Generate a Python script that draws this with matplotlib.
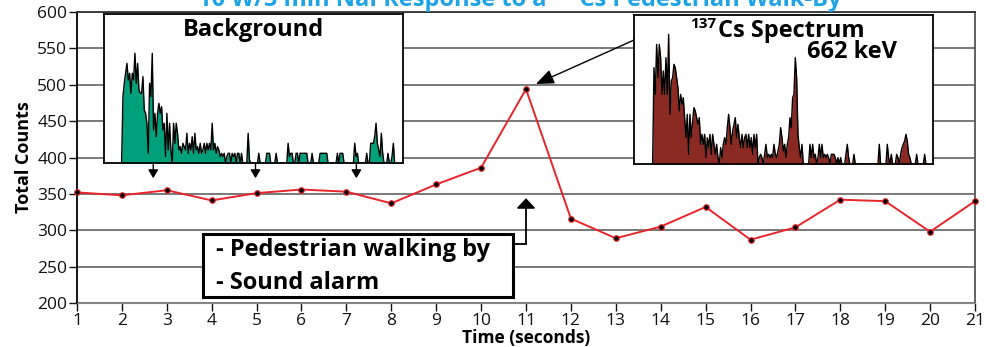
import matplotlib
matplotlib.use('Agg')
import matplotlib.pyplot as plt
from matplotlib.patches import Rectangle

plt.rcParams['font.family'] = ['Open Sans', 'DejaVu Sans']

# main trace: total counts per second
time_s = list(range(1, 22))
total_counts = [352, 348, 355, 341, 351, 356, 353, 337, 363, 386, 494,
                316, 289, 305, 332, 287, 304, 342, 340, 298, 340]
y_ticks = [200, 250, 300, 350, 400, 450, 500, 550, 600]

# inset spectra (relative channel heights)
bg_spectrum = [
    0, 20, 24, 27, 30, 25, 27, 21, 27, 25,
    33, 24, 30, 22, 21, 21, 26, 16, 15, 12,
    3, 24, 20, 33, 10, 15, 8, 15, 18, 15,
    17, 10, 12, 2, 15, 4, 12, 4, 0, 12,
    6, 12, 9, 4, 5, 3, 6, 5, 4, 9,
    3, 6, 4, 8, 3, 9, 4, 5, 3, 6,
    3, 4, 6, 3, 6, 4, 6, 4, 12, 4,
    6, 3, 5, 4, 2, 3, 2, 3, 0, 2,
    3, 3, 0, 3, 2, 3, 0, 3, 3, 0,
    3, 0, 0, 0, 0, 9, 1, 0, 0, 0,
    0, 0, 0, 3, 0, 0, 0, 0, 0, 3,
    3, 3, 0, 0, 0, 0, 3, 0, 0, 0,
    0, 0, 0, 0, 0, 6, 2, 3, 3, 0,
    0, 3, 3, 0, 3, 3, 3, 3, 3, 3,
    0, 0, 0, 3, 0, 0, 0, 0, 0, 3,
    3, 3, 3, 3, 3, 0, 0, 0, 0, 0,
    0, 0, 3, 0, 3, 3, 3, 0, 0, 0,
    0, 0, 0, 0, 0, 6, 2, 3, 0, 0,
    0, 0, 0, 0, 3, 0, 0, 6, 6, 6,
    8, 12, 6, 4, 2, 9, 3, 0, 0, 0,
    3, 0, 0, 2, 6, 0,
]
cs_spectrum = [
    0, 29, 21, 36, 26, 36, 32, 21, 28, 21,
    32, 21, 39, 15, 25, 26, 30, 29, 26, 23,
    16, 21, 18, 20, 14, 8, 15, 3, 15, 8,
    13, 17, 16, 14, 12, 14, 6, 9, 6, 9,
    2, 8, 5, 9, 3, 9, 6, 3, 6, 2,
    0, 5, 2, 6, 8, 6, 11, 15, 11, 6,
    10, 12, 14, 8, 12, 8, 5, 9, 5, 8,
    9, 5, 9, 5, 8, 3, 9, 5, 9, 0,
    2, 3, 2, 0, 3, 6, 2, 3, 2, 3,
    2, 6, 3, 2, 4, 6, 11, 8, 4, 6,
    2, 6, 8, 14, 11, 20, 21, 32, 26, 9,
    5, 2, 6, 0, 0, 0, 0, 0, 6, 2,
    6, 2, 3, 0, 2, 6, 2, 6, 2, 3,
    2, 3, 2, 0, 3, 3, 3, 2, 0, 2,
    0, 2, 0, 0, 0, 3, 6, 2, 0, 0,
    0, 3, 0, 0, 0, 0, 0, 0, 0, 0,
    0, 0, 0, 0, 0, 0, 0, 0, 0, 0,
    6, 0, 0, 0, 0, 0, 6, 2, 0, 3,
    0, 0, 0, 3, 2, 0, 3, 5, 6, 7,
    9, 7, 3, 2, 0, 0, 0, 0, 3, 0,
    0, 0, 0, 0, 3, 0,
]
bg_channels = [65 + 4 * i for i in range(len(bg_spectrum))]
cs_channels = [68 + 4 * i for i in range(len(cs_spectrum))]

RED = '#e8252a'
BLUE = '#1ea3e6'

fig = plt.figure(figsize=(9.87, 3.47), dpi=100)
ax = fig.add_axes([77 / 987, 1 - 303 / 347, 898 / 987, 291 / 347])

ax.plot(time_s, total_counts, color=RED, lw=1.4, marker='o', ms=4,
        mfc='black', mec=RED, mew=0.8, clip_on=False, zorder=4)
ax.set_xlim(1, 21)
ax.set_ylim(200, 600)
ax.set_xticks(time_s)
ax.set_yticks(y_ticks)
ax.grid(axis='y', color='#555555', lw=1.1)
ax.set_axisbelow(True)
ax.tick_params(labelsize=12.5, length=6, width=1, colors='#111111', pad=1)
ax.spines['left'].set_color('black')
ax.spines['left'].set_linewidth(1.3)
ax.spines['top'].set_color('#333333')
ax.spines['right'].set_color('#555555')
ax.spines['bottom'].set_color('#888888')
ax.spines['right'].set_linewidth(1.3)
ax.spines['top'].set_linewidth(1.3)
ax.set_ylabel('Total Counts', fontsize=13, fontweight='bold', labelpad=3)
ax.set_xlabel('Time (seconds)', fontsize=12.5, fontweight='bold', labelpad=0.5)

# title (mostly cut off at top of the figure)
fig.text(0.527, 1 - 6 / 347, '10 W/5 min NaI Response to a \u00b9\u00b3\u2077Cs Pedestrian Walk-By',
         ha='center', va='baseline', fontsize=17, fontweight='bold', color=BLUE)

# annotation box
ax.add_patch(Rectangle((3.81, 208), 10.72 - 3.81, 294.7 - 208, facecolor='white',
                       edgecolor='black', lw=2.2, zorder=5))
ax.text(4.1, 264.8, '- Pedestrian walking by', fontsize=17, fontweight='bold',
        va='baseline', zorder=6)
ax.text(4.1, 219.1, '- Sound alarm', fontsize=17, fontweight='bold',
        va='baseline', zorder=6)
ax.plot([10.72, 11], [281, 281], color='black', lw=1.3, zorder=5)
ax.annotate('', xy=(11, 344), xytext=(11, 281),
            arrowprops=dict(arrowstyle='-|>,head_length=0.6,head_width=0.57',
                            mutation_scale=10, color='black', lw=1.3,
                            shrinkA=0, shrinkB=0))

# background inset
ax_bg = fig.add_axes([104.3 / 987, 1 - 163.3 / 347, 298.7 / 987, 149 / 347])
ax_bg.fill_between(bg_channels, bg_spectrum, color='#00a07a', lw=0)
ax_bg.plot(bg_channels, bg_spectrum, color='black', lw=1)
ax_bg.set_xlim(13, 910)
ax_bg.set_ylim(0, 44.7)
ax_bg.set_xticks([])
ax_bg.set_yticks([])
for s in ax_bg.spines.values():
    s.set_linewidth(1.3)
ax_bg.text(0.5, 0.854, 'Background', transform=ax_bg.transAxes, ha='center',
           va='baseline', fontsize=17, fontweight='bold')
for xc in [160, 467, 770]:
    ax_bg.annotate('', xy=(xc, -0.1), xycoords=('data', 'axes fraction'),
                   xytext=(xc, 0), textcoords=('data', 'axes fraction'),
                   arrowprops=dict(arrowstyle='-|>,head_length=0.5,head_width=0.3',
                                   mutation_scale=10, color='black', lw=1,
                                   shrinkA=0, shrinkB=0),
                   annotation_clip=False)

# Cs-137 inset
ax_cs = fig.add_axes([634.3 / 987, 1 - 164.3 / 347, 299 / 987, 149.3 / 347])
ax_cs.fill_between(cs_channels, cs_spectrum, color='#8b2a23', lw=0)
ax_cs.plot(cs_channels, cs_spectrum, color='black', lw=1)
ax_cs.set_xlim(13, 910)
ax_cs.set_ylim(0, 44.8)
ax_cs.set_xticks([])
ax_cs.set_yticks([])
for s in ax_cs.spines.values():
    s.set_linewidth(1.3)
ax_cs.text(0.186, 0.913, '137', transform=ax_cs.transAxes, ha='left',
           va='baseline', fontsize=11, fontweight='bold')
ax_cs.text(0.28, 0.855, 'Cs Spectrum', transform=ax_cs.transAxes, ha='left',
           va='baseline', fontsize=17, fontweight='bold')
ax_cs.text(0.877, 0.715, '662 keV', transform=ax_cs.transAxes, ha='right',
           va='baseline', fontsize=17, fontweight='bold')

# arrow from the Cs inset to the peak
ax.annotate('', xy=(11.22, 501), xycoords='data', xytext=(0, 0.833),
            textcoords=ax_cs.transAxes,
            arrowprops=dict(arrowstyle='-|>,head_length=1.1,head_width=0.45',
                            mutation_scale=10, color='black', lw=1,
                            shrinkA=0, shrinkB=0))

fig.savefig('out.png', dpi=100)
